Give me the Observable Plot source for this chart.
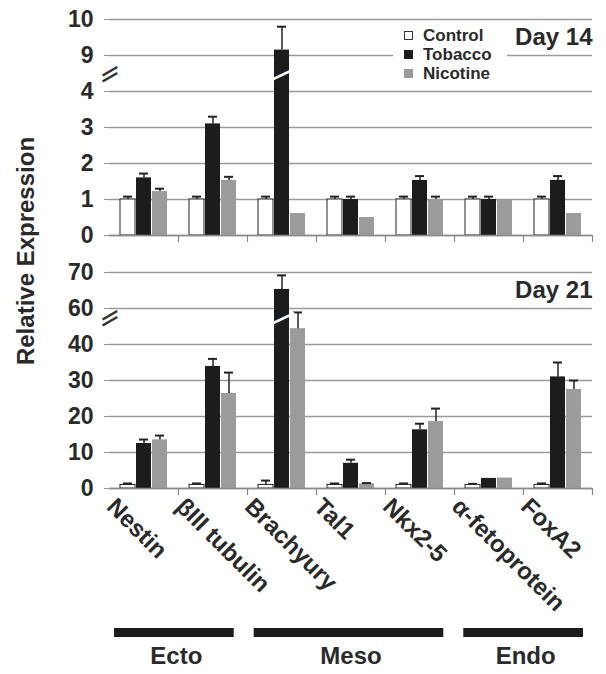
<!DOCTYPE html>
<html>
<head>
<meta charset="utf-8">
<script src="https://cdn.jsdelivr.net/npm/d3@7"></script>
<script src="https://cdn.jsdelivr.net/npm/@observablehq/plot@0.6"></script>
<style>
  body { margin: 0; background: white; }
  #wrap { position: relative; width: 606px; height: 674px; overflow: hidden; background: white;
          font-family: "Liberation Sans", Arial, sans-serif; font-weight: bold; color: #2a2a2a; }
  #wrap svg { display: block; }
  #ylabel { position: absolute; left: 26px; top: 251px; transform: translate(-50%, -50%) rotate(-90deg);
            font-size: 24px; white-space: nowrap; }
  #legend { position: absolute; left: 393px; top: 24px; width: 114px; height: 60px; background: white;
            font-size: 17px; padding-top: 2px; box-sizing: border-box; }
  #legend .row { height: 19px; line-height: 19px; display: flex; align-items: center; padding-left: 11px; }
  #legend .sw { width: 9px; height: 9px; margin-right: 10px; box-sizing: border-box; }
</style>
</head>
<body>
<div id="wrap">
  <div id="top"></div>
  <div id="bottom"></div>
  <div id="groups"></div>
  <div id="ylabel">Relative Expression</div>
  <div id="legend"></div>
</div>
<script>
// ---- data ----
const categories = ["Nestin", "βIII tubulin", "Brachyury", "Tal1", "Nkx2-5", "α-fetoprotein", "FoxA2"];
const series = ["Control", "Tobacco", "Nicotine"];
const seriesColors = ["white", "#1c1c1c", "#9b9b9b"];

const d14Control     = [1.0, 1.0, 1.0, 1.0, 1.0, 1.0, 1.0];
const d14ControlErr  = [1.08, 1.08, 1.08, 1.08, 1.08, 1.08, 1.08];
const d14Tobacco     = [1.6, 3.1, 9.15, 1.0, 1.53, 1.0, 1.53];
const d14TobaccoErr  = [1.72, 3.3, 9.8, 1.08, 1.65, 1.08, 1.65];
const d14Nicotine    = [1.22, 1.53, 0.61, 0.5, 1.0, 1.0, 0.61];
const d14NicotineErr = [1.3, 1.63, null, null, 1.08, null, null];

const d21Control     = [1.0, 1.0, 1.0, 1.0, 1.0, 1.0, 1.0];
const d21ControlErr  = [1.4, 1.4, 2.2, 1.4, 1.4, 1.3, 1.4];
const d21Tobacco     = [12.5, 33.9, 65.3, 7.0, 16.3, 2.8, 31.0];
const d21TobaccoErr  = [13.6, 36.0, 69.2, 8.0, 18.0, null, 35.0];
const d21Nicotine    = [13.5, 26.4, 44.4, 1.3, 18.6, 2.9, 27.5];
const d21NicotineErr = [14.7, 32.2, 58.9, 1.5, 22.2, null, 30.0];

const ticks14 = ["0", "1", "2", "3", "4", "9", "10"];
const ticks21 = ["0", "10", "20", "30", "40", "60", "70"];

const groupNames = ["Ecto", "Meso", "Endo"];
const groupStart = [0, 2, 5];
const groupEnd   = [2, 5, 7];

// ---- helpers ----
function buildRows(vals, errs) {
  return categories.flatMap((c, i) => series.map((s, j) => ({cat: c, series: s, v: vals[j][i], e: errs[j][i]})));
}

const FONT = '"Liberation Sans", Arial, sans-serif';

function panel({rows, labels, step, breakAt, gap, height, marginTop, marginBottom, dayLabel, showLabels}) {
  const brk = v => (v <= breakAt ? v : v - gap);
  const tickPos = labels.map((_, i) => i * step);
  const plotH = height - marginTop - marginBottom;
  const errRows = rows.filter(d => d.e != null);
  const axisBreak = [{cat: categories[0]}];
  const breakOpts = {fx: "cat", frameAnchor: "left", y: breakAt, text: () => "—", textAnchor: "middle",
                     rotate: -30, fontSize: 19, fontFamily: "DejaVu Sans"};
  const marks = [
    Plot.ruleY(tickPos, {stroke: "#9a9a9a", strokeWidth: 1.4}),
    Plot.barY(rows, {fx: "cat", x: "series", y: d => brk(d.v), fill: "series"}),
    Plot.barY(rows.filter(d => d.series === "Control"), {fx: "cat", x: "series", y: d => brk(d.v), fill: "none", stroke: "#222", strokeWidth: 1}),
    Plot.ruleX(errRows, {fx: "cat", x: "series", y1: d => brk(d.v), y2: d => brk(d.e), stroke: "#222", strokeWidth: 1.5}),
    Plot.tickY(errRows, {fx: "cat", x: "series", y: d => brk(d.e), insetLeft: 3, insetRight: 3, stroke: "#222", strokeWidth: 2}),
    Plot.ruleY([0], {stroke: "#8a8a8a", strokeWidth: 1.5}),
    Plot.frame({anchor: "right", insetTop: plotH, insetBottom: -6, stroke: "#8a8a8a", strokeWidth: 1.2}),
    Plot.axisY({ticks: tickPos, tickFormat: d => labels[Math.round(d / step)], tickSize: 5, tickPadding: 11,
                line: true, strokeOpacity: 0.5, label: null, fontSize: 23}),
    // axis break: white band then two slanted strokes
    Plot.text(axisBreak, {...breakOpts, fill: "white", stroke: "white", strokeWidth: 6}),
    Plot.text(axisBreak, {...breakOpts, fill: "#333", dy: -3}),
    Plot.text(axisBreak, {...breakOpts, fill: "#333", dy: 3}),
    // bar break slash
    Plot.text(rows.filter(d => d.v > breakAt), {fx: "cat", x: "series", y: breakAt, text: () => "—",
               rotate: -25, fontSize: 26, fill: "white"}),
    Plot.text([{cat: categories[categories.length - 1], t: dayLabel}], {fx: "cat", text: "t", frameAnchor: "top-right",
               textAnchor: "end", dy: 8, fontSize: 24, fill: "#2a2a2a"})
  ];
  if (showLabels) {
    marks.push(Plot.axisFx({anchor: "bottom", tickRotate: 45, tickSize: 0, tickPadding: 14, dx: -33,
                            label: null, fontSize: 24, fill: "#2a2a2a"}));
  }
  return Plot.plot({
    width: 606, height, marginLeft: 106, marginRight: 11, marginTop, marginBottom,
    fx: {domain: categories, padding: 0, axis: null},
    x: {domain: series, paddingInner: 0.07, paddingOuter: 0.64, axis: null},
    y: {domain: [0, 6 * step]},
    color: {domain: series, range: seriesColors},
    style: {fontFamily: FONT, fontWeight: "bold", fontSize: "22px", color: "#2a2a2a", background: "white", overflow: "visible"},
    marks
  });
}

document.getElementById("top").append(panel({
  rows: buildRows([d14Control, d14Tobacco, d14Nicotine], [d14ControlErr, d14TobaccoErr, d14NicotineErr]),
  labels: ticks14, step: 1, breakAt: 4.5, gap: 4, height: 250, marginTop: 19, marginBottom: 15,
  dayLabel: "Day 14", showLabels: false
}));

document.getElementById("bottom").append(panel({
  rows: buildRows([d21Control, d21Tobacco, d21Nicotine], [d21ControlErr, d21TobaccoErr, d21NicotineErr]),
  labels: ticks21, step: 10, breakAt: 47.5, gap: 10, height: 365, marginTop: 22, marginBottom: 127,
  dayLabel: "Day 21", showLabels: true
}));

const groups = groupNames.map((g, i) => ({g, s: groupStart[i], e: groupEnd[i]}));
document.getElementById("groups").append(Plot.plot({
  width: 606, height: 59, marginLeft: 106, marginRight: 11, marginTop: 13, marginBottom: 37,
  x: {domain: [0, categories.length], axis: null},
  y: {axis: null},
  style: {fontFamily: FONT, fontWeight: "bold", fontSize: "24px", color: "#2a2a2a", background: "white", overflow: "visible"},
  marks: [
    Plot.rect(groups, {x1: "s", x2: "e", insetLeft: 8, insetRight: 12, fill: "#1c1c1c"}),
    Plot.text(groups, {x: d => (d.s + d.e) / 2, text: "g", frameAnchor: "bottom", dy: 26, fontSize: 24, fill: "#2a2a2a"})
  ]
}));

// legend
const legend = document.getElementById("legend");
series.forEach((s, i) => {
  const row = document.createElement("div");
  row.className = "row";
  const sw = document.createElement("div");
  sw.className = "sw";
  sw.style.background = seriesColors[i];
  sw.style.border = i === 0 ? "1px solid #333" : "none";
  row.append(sw, document.createTextNode(s));
  legend.append(row);
});
</script>
</body>
</html>
